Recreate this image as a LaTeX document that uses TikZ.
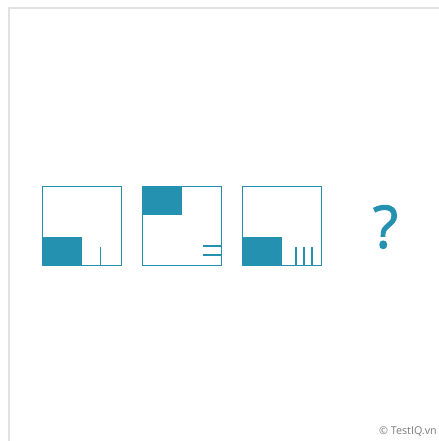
\documentclass[tikz,border=0pt]{standalone}
\usepackage{fontspec}
\setmainfont{Open Sans}
\newfontfamily\askfont{Open Sans}[FakeBold=1.6]
\usetikzlibrary{positioning,calc}
\definecolor{qTeal}{HTML}{2591B0}
\definecolor{qFrame}{HTML}{E2E2E2}
\definecolor{qNote}{HTML}{7A7A7A}
\tikzset{
  cell/.style={draw=qTeal, line width=1.8pt, minimum size=79bp, inner sep=0pt},
  block/.style={fill=qTeal, inner sep=0pt, minimum width=40bp, minimum height=29.5bp},
  tick/.style={draw=qTeal, line width=1.8pt},
  note/.style={font=\fontsize{10.8}{11}\selectfont, text=qNote, inner sep=0pt},
}

\begin{document}
\begin{tikzpicture}[x=1bp, y=1bp]
\useasboundingbox (0,0) rectangle (439,441);

%% page frame, top and left only
\draw[qFrame, line width=2bp] (9,0) -- (9,433) -- (439,433);

%% the three cells
\node[cell] (c1) at (82,215) {};
\node[cell] (c2) at (182,215) {};
\node[cell] (c3) at (282,215) {};

%% shaded corners
\node[block, anchor=south west] (b1) at (c1.south west) {};
\node[block, anchor=north west] (b2) at (c2.north west) {};
\node[block, anchor=south west] (b3) at (c3.south west) {};

%% tick marks
\draw[tick] ($(c1.south east)+(-22,0)$) -- ++(0,19.5);
\foreach \dy in {11.7,20.3}
  \draw[tick] ($(c2.south east)+(0,\dy)$) -- ++(-19.5,0);
\foreach \dx in {26.7,18.7,10.3}
  \draw[tick] ($(c3.south east)+(-\dx,0)$) -- ++(0,19.5);

%% the missing one
\node[text=qTeal, font=\askfont\fontsize{59}{59}\selectfont, inner sep=0pt]
  (ask) at (385.5,214) {?};

\node[note, anchor=east] (credit) at (437,9) {© TestIQ.vn};

\end{tikzpicture}
\end{document}
